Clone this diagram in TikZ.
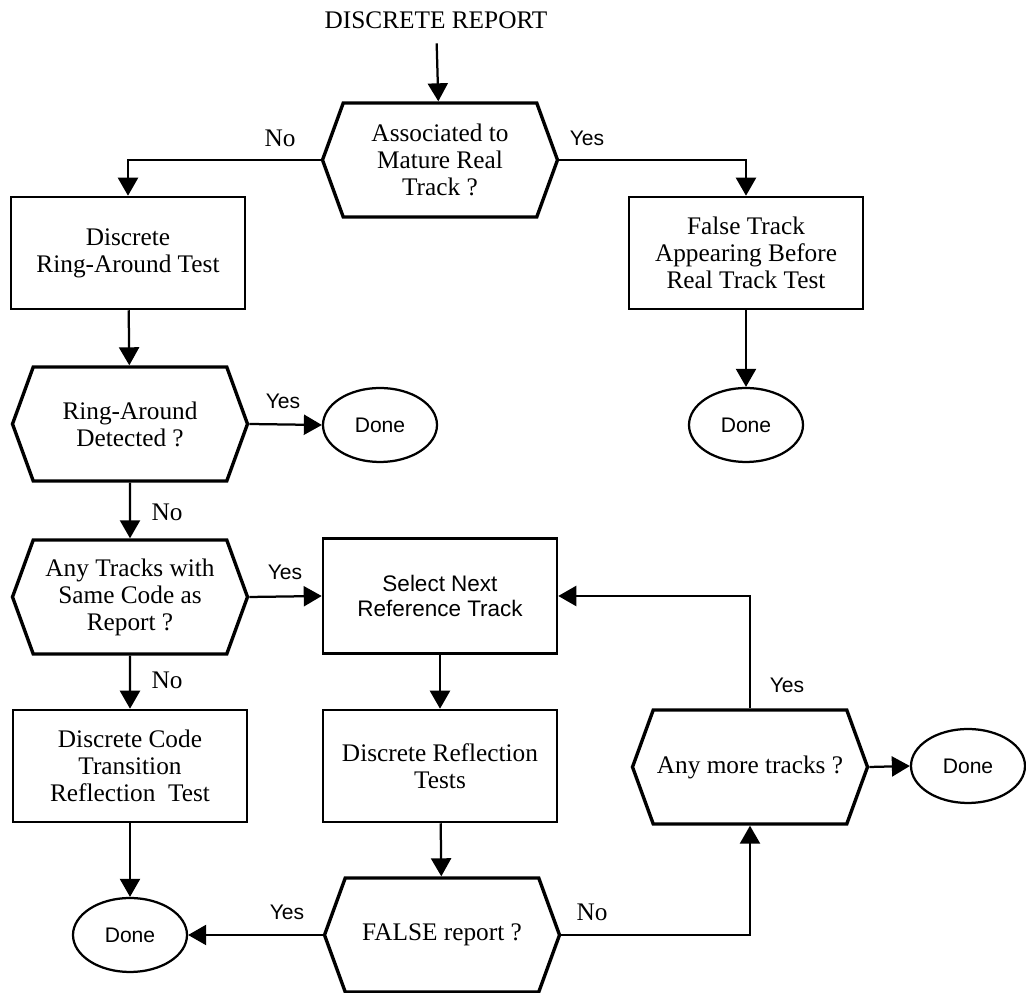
\documentclass[tikz,border=0pt]{standalone}
\usepackage{fontspec}
\setmainfont{Liberation Serif}
\setsansfont{Liberation Sans}
\usetikzlibrary{shapes.geometric, shapes.symbols, arrows.meta}

\begin{document}
\begin{tikzpicture}[
    decision/.style={signal, signal to=west and east, signal pointer angle=140, draw, line width=2.4pt, minimum width=5.875cm, minimum height=2.85cm, inner sep=1pt, align=center, font=\fontsize{18}{19.2}\selectfont},
    process/.style={rectangle, draw, line width=1.8pt, minimum width=5.85cm, minimum height=2.8cm, align=center, font=\fontsize{18}{19.2}\selectfont},
    terminal/.style={ellipse, draw, line width=1.6pt, minimum width=2.85cm, minimum height=1.85cm, font=\sffamily\fontsize{15}{17}\selectfont},
    lbl/.style={font=\fontsize{18}{19.2}\selectfont},
    lblsf/.style={font=\sffamily\fontsize{15}{17}\selectfont},
    arrow/.style={-{Triangle[length=0.45cm, width=0.5cm]}, line width=1.6pt}
]
\useasboundingbox (0,0) rectangle (25.65,24.825);

\node[lbl] (report) at (10.9,24.325) {DISCRETE REPORT};
\node[decision] (assoc) at (11,20.825) {Associated to\\Mature Real\\Track ?};

% left branch
\node[process] (ringtest) at (3.2,18.5) {Discrete\\Ring-Around Test};
\node[decision] (ringdet) at (3.25,14.225) {Ring-Around\\Detected ?};
\node[terminal] (done1) at (9.5,14.2) {Done};
\node[decision] (samecode) at (3.25,9.9) {Any Tracks with\\Same Code as\\Report ?};
\node[process] (codetest) at (3.25,5.675) {Discrete Code\\Transition\\Reflection~ Test};
\node[terminal] (done4) at (3.25,1.45) {Done};

% right branch
\node[process] (falsetrack) at (18.65,18.5) {False Track\\Appearing Before\\Real Track Test};
\node[terminal] (done2) at (18.65,14.2) {Done};

% reference track loop
\node[process, minimum height=2.875cm, font=\sffamily\fontsize{16}{18.4}\selectfont] (select) at (11,9.925) {Select Next\\Reference Track};
\node[process] (refltest) at (11,5.675) {Discrete Reflection\\Tests};
\node[decision] (falserep) at (11.05,1.45) {FALSE report ?};
\node[decision] (more) at (18.75,5.65) {Any more tracks ?};
\node[terminal] (done3) at (24.2,5.675) {Done};

\draw[arrow, shorten <=0.25cm] (report) -- (assoc);
\draw[arrow] (assoc.west) -| (ringtest.north);
\draw[arrow] (assoc.east) -| (falsetrack.north);
\draw[arrow] (ringtest) -- (ringdet);
\draw[arrow] (ringdet.east) -- (done1.west);
\draw[arrow] (falsetrack) -- (done2);
\draw[arrow] (ringdet) -- (samecode);
\draw[arrow] (samecode.east) -- (select.west);
\draw[arrow] (samecode) -- (codetest);
\draw[arrow] (codetest) -- (done4);
\draw[arrow] (select) -- (refltest);
\draw[arrow] (refltest) -- (falserep);
\draw[arrow] (falserep.west) -- (done4.east);
\draw[arrow] (falserep.east) -| (more.south);
\draw[arrow] (more.north) |- (select.east);
\draw[arrow] (more.east) -- (done3.west);

\node[lbl] (noA) at (7.0,21.375) {No};
\node[lblsf] (yesA) at (14.675,21.375) {Yes};
\node[lblsf] (yesB) at (7.075,14.8) {Yes};
\node[lbl] (noB) at (4.175,12.025) {No};
\node[lblsf] (yesC) at (7.125,10.525) {Yes};
\node[lbl] (noC) at (4.175,7.825) {No};
\node[lblsf] (yesD) at (19.675,7.7) {Yes};
\node[lblsf] (yesE) at (7.175,2.025) {Yes};
\node[lbl] (noD) at (14.8,2.025) {No};
\end{tikzpicture}
\end{document}
